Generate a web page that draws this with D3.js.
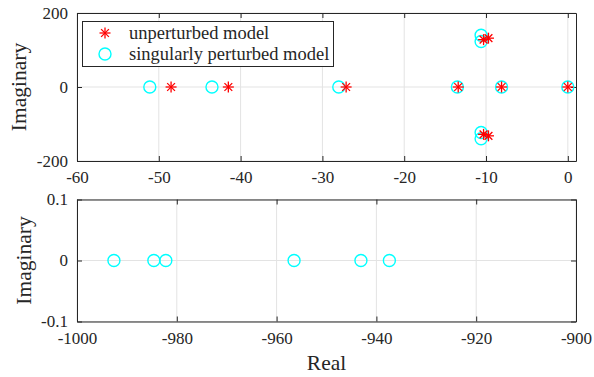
<!DOCTYPE html>
<html>
<head>
<meta charset="utf-8">
<script src="https://cdn.jsdelivr.net/npm/d3@7"></script>
<style>
  body { margin: 0; background: #fff; }
  svg text { font-family: "Liberation Serif", "DejaVu Serif", serif !important; }
</style>
</head>
<body>
<svg id="chart"></svg>
<script>
// unperturbed model poles (red asterisks)
var unpertRe = [-48.5, -41.5, -27.1, -13.4, -8.1, 0, -10.3, -10.3, -9.7, -9.7];
var unpertIm = [0, 0, 0, 0, 0, 0, 128, -128, 132, -132];

// singularly perturbed model, slow poles (cyan circles, top panel)
var slowRe = [-51.1, -43.5, -28.0, -13.5, -8.1, 0, -10.6, -10.6, -10.6, -10.6];
var slowIm = [0, 0, 0, 0, 0, 0, 140, -140, 123, -123];

// singularly perturbed model, fast poles (bottom panel)
var fastRe = [-992.6, -984.6, -982.2, -956.5, -943.1, -937.4];
var fastIm = [0, 0, 0, 0, 0, 0];

var topXTicks = [-60, -50, -40, -30, -20, -10, 0];
var topYTicks = [-200, 0, 200];
var botXTicks = [-1000, -980, -960, -940, -920, -900];
var botYTicks = [-0.1, 0, 0.1];

var legendLabels = ["unperturbed model", "singularly perturbed model"];

var W = 594, H = 377;
var svg = d3.select("#chart").attr("width", W).attr("height", H);

var axisCol = "#262626";
var red = "#ff0000", cyan = "#00ffff";
var serif = "'Liberation Serif', 'DejaVu Serif', serif";

function asterisk(g, cx, cy, r) {
  var s = g.append("g").attr("transform", "translate(" + cx + "," + cy + ")")
    .attr("stroke", red).attr("stroke-width", 1.3).attr("fill", "none");
  var d = r * 0.7071;
  s.append("line").attr("x1", -r).attr("x2", r).attr("y1", 0).attr("y2", 0);
  s.append("line").attr("x1", 0).attr("x2", 0).attr("y1", -r).attr("y2", r);
  s.append("line").attr("x1", -d).attr("x2", d).attr("y1", -d).attr("y2", d);
  s.append("line").attr("x1", -d).attr("x2", d).attr("y1", d).attr("y2", -d);
}

function circle(g, cx, cy) {
  g.append("circle").attr("cx", cx).attr("cy", cy).attr("r", 6)
    .attr("fill", "none").attr("stroke", cyan).attr("stroke-width", 1.4);
}

function panel(opt) {
  var x = d3.scaleLinear().domain(opt.xdom).range([77, 576]);
  var y = d3.scaleLinear().domain(opt.ydom).range([opt.bottom, opt.top]);
  var g = svg.append("g");

  // grid
  g.selectAll(".gx").data(opt.xticks).enter().append("line")
    .attr("x1", d => x(d)).attr("x2", d => x(d))
    .attr("y1", opt.top).attr("y2", opt.bottom)
    .attr("stroke", "#e3e3e3").attr("stroke-width", 1);
  g.selectAll(".gy").data(opt.yticks).enter().append("line")
    .attr("x1", 77).attr("x2", 576)
    .attr("y1", d => y(d)).attr("y2", d => y(d))
    .attr("stroke", "#e3e3e3").attr("stroke-width", 1);

  // axes with inward ticks on all sides
  var fmt = d => String(d);
  var ax = [
    [d3.axisBottom(x).tickValues(opt.xticks).tickSizeInner(-5).tickSizeOuter(0).tickPadding(10).tickFormat(fmt), "translate(0," + opt.bottom + ")"],
    [d3.axisTop(x).tickValues(opt.xticks).tickSizeInner(-5).tickSizeOuter(0).tickFormat(""), "translate(0," + opt.top + ")"],
    [d3.axisLeft(y).tickValues(opt.yticks).tickSizeInner(-5).tickSizeOuter(0).tickPadding(9).tickFormat(fmt), "translate(77,0)"],
    [d3.axisRight(y).tickValues(opt.yticks).tickSizeInner(-5).tickSizeOuter(0).tickFormat(""), "translate(576,0)"]
  ];
  ax.forEach(function (a) {
    var s = g.append("g").attr("transform", a[1]).call(a[0]).attr("font-family", serif);
    s.select(".domain").attr("stroke", axisCol);
    s.selectAll(".tick line").attr("stroke", axisCol);
    s.selectAll("text").attr("fill", axisCol)
      .style("font-family", serif).style("font-size", "17px");
  });

  // axis label
  g.append("text")
    .attr("transform", "translate(" + opt.ylabX + "," + ((opt.top + opt.bottom) / 2) + ") rotate(-90)")
    .attr("text-anchor", "middle").attr("dy", "0.35em")
    .attr("fill", axisCol).style("font-family", serif).style("font-size", "21.5px").text("Imaginary");

  return { g: g, x: x, y: y };
}

// top panel
var p1 = panel({ xdom: [-60, 1], ydom: [-200, 200], top: 13, bottom: 161,
  xticks: topXTicks, yticks: topYTicks, ylabX: 18 });
slowRe.forEach((d, i) => circle(p1.g, p1.x(d), p1.y(slowIm[i])));
unpertRe.forEach((d, i) => asterisk(p1.g, p1.x(d), p1.y(unpertIm[i]), 5.5));

// legend
var lg = p1.g.append("g");
lg.append("rect").attr("x", 82.5).attr("y", 21.5).attr("width", 251).attr("height", 45)
  .attr("fill", "#fff").attr("stroke", axisCol).attr("stroke-width", 1);
asterisk(lg, 105, 33, 5.5);
circle(lg, 105, 54);
legendLabels.forEach(function (t, i) {
  lg.append("text").attr("x", 129).attr("y", 33 + i * 21).attr("dy", "0.33em")
    .attr("fill", axisCol).style("font-family", serif).style("font-size", "18.5px").text(t);
});

// bottom panel
var p2 = panel({ xdom: [-1000, -900], ydom: [-0.1, 0.1], top: 199.5, bottom: 321.5,
  xticks: botXTicks, yticks: botYTicks, ylabX: 23 });
fastRe.forEach((d, i) => circle(p2.g, p2.x(d), p2.y(fastIm[i])));

p2.g.append("text").attr("x", (77 + 576) / 2).attr("y", 370)
  .attr("text-anchor", "middle").attr("fill", axisCol)
  .style("font-family", serif).style("font-size", "21.5px").text("Real");
</script>
</body>
</html>
